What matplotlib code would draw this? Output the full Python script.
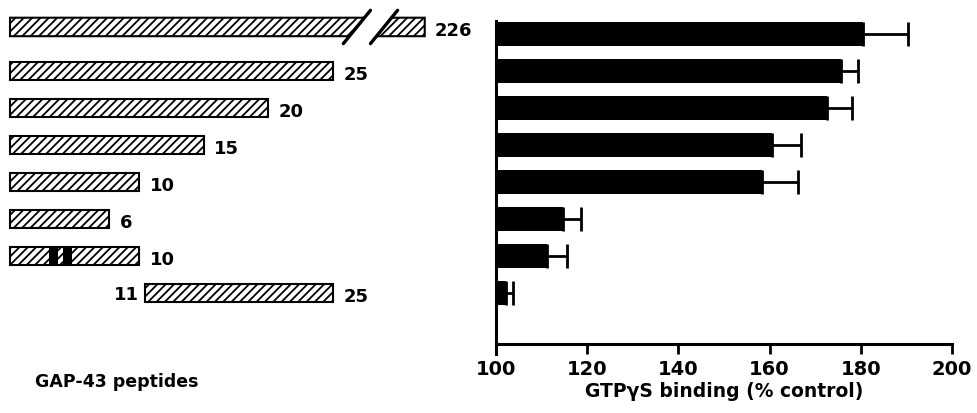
import matplotlib
matplotlib.use("Agg")
import matplotlib.pyplot as plt
from matplotlib.patches import Polygon, Rectangle
import numpy as np

plt.rcParams['font.family'] = ['DejaVu Sans']
plt.rcParams['hatch.linewidth'] = 1.3

# ---- data ----
binding = [180.5, 175.7, 172.6, 160.5, 158.4, 114.7, 111.1, 102.3]
binding_err = [9.8, 3.7, 5.4, 6.4, 7.8, 3.9, 4.4, 1.5]

pep_start = [0, 0, 0, 0, 0, 0, 0, 10.45]
pep_end = [32.1, 25, 20, 15, 10, 7.7, 10, 25]
pep_right_label = ["226", "25", "20", "15", "10", "6", "10", "25"]
pep_left_label = ["", "", "", "", "", "", "", "11"]
mut_row = 6
mut_segments = [(3.0, 3.7), (4.1, 4.8)]
break_row = 0
break_slashes = [(25.8, 27.9), (27.9, 30.0)]  # x at bottom, x at top

xticks = [100, 120, 140, 160, 180, 200]

W, H = 977, 414
fig = plt.figure(figsize=(W / 100, H / 100), dpi=100)

ax_bottom = (H - 345) / H
ax_top = 1 - 22 / H
ax_h = ax_top - ax_bottom

n = len(binding)
rows = np.arange(n)
ylim = (8.378, -0.351)

# ---- right panel ----
ax = fig.add_axes([496 / W, ax_bottom, 456 / W, ax_h])
ax.barh(rows, np.array(binding) - 100, left=100, height=0.65, color='black')
ax.errorbar(binding, rows, xerr=[np.zeros(n), binding_err], fmt='none',
            ecolor='black', elinewidth=2.0, capsize=8.3, capthick=2.0)
ax.set_xlim(100, 200)
ax.set_ylim(*ylim)
ax.set_xticks(xticks)
ax.set_xticklabels([str(t) for t in xticks], fontweight='bold', fontsize=14)
ax.set_yticks([])
for s in ['top', 'right']:
    ax.spines[s].set_visible(False)
for s in ['left', 'bottom']:
    ax.spines[s].set_linewidth(2.2)
ax.spines['left'].set_bounds(ylim[0] + 0.27, ylim[1])
ax.tick_params(axis='x', direction='out', length=7, width=2.0, pad=4)
ax.set_xlabel("GTPγS binding (% control)", fontweight='bold', fontsize=13.5,
              labelpad=2)

# ---- left panel ----
la = fig.add_axes([0, ax_bottom, 480 / W, ax_h])
la.set_xlim(-10 / 12.92, 470 / 12.92)
la.set_ylim(*ylim)
la.axis('off')

bh = 0.25
hatch = '////'
for i in range(n):
    s, e = pep_start[i], pep_end[i]
    yc = rows[i] - 0.19 if i == 0 else rows[i]
    if i == break_row:
        sl = 0.45
        (b1, t1), (b2, t2) = break_slashes

        def xat(b, t, y):
            frac = ((yc + sl) - y) / (2 * sl)
            return b + frac * (t - b)
        poly1 = [(s, yc + bh), (s, yc - bh), (xat(b1, t1, yc - bh), yc - bh),
                 (xat(b1, t1, yc + bh), yc + bh)]
        poly2 = [(xat(b2, t2, yc + bh), yc + bh), (xat(b2, t2, yc - bh), yc - bh),
                 (e, yc - bh), (e, yc + bh)]
        for p in (poly1, poly2):
            la.add_patch(Polygon(p, closed=True, facecolor='white',
                                 edgecolor='black', hatch=hatch, lw=1.5,
                                 clip_on=False))
        for b, t in break_slashes:
            la.plot([b, t], [yc + sl, yc - sl], color='black', lw=2.4,
                    solid_capstyle='round', clip_on=False)
    else:
        la.add_patch(Rectangle((s, yc - bh), e - s, 2 * bh, facecolor='white',
                               edgecolor='black', hatch=hatch, lw=1.5,
                               clip_on=False))
        if i == mut_row:
            for a, b in mut_segments:
                la.add_patch(Rectangle((a, yc - bh), b - a, 2 * bh,
                                       facecolor='black', edgecolor='black',
                                       lw=0, clip_on=False))
    la.text(e + 0.8, yc + 0.08, pep_right_label[i], fontweight='bold',
            fontsize=13, ha='left', va='center')
    if pep_left_label[i]:
        la.text(s - 0.5, yc + 0.04, pep_left_label[i], fontweight='bold',
                fontsize=13, ha='right', va='center')

fig.text(35 / W, 1 - 382 / H, "GAP-43 peptides", fontweight='bold',
         fontsize=12.5, ha='left', va='center')

fig.savefig("out.png", dpi=100)
